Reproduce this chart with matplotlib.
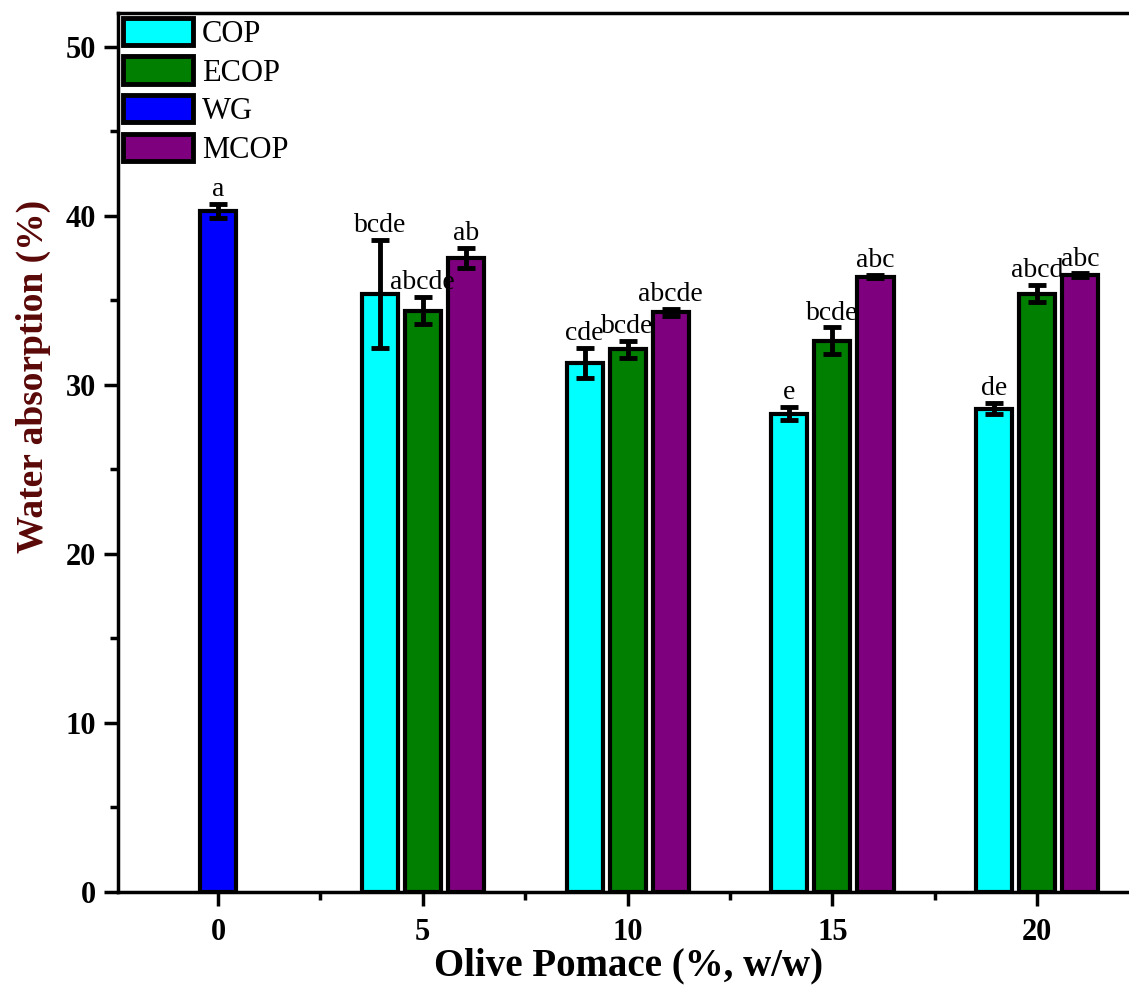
import numpy as np
import matplotlib.pyplot as plt
from matplotlib.patches import Patch
from matplotlib.ticker import MultipleLocator

plt.rcParams['font.family'] = 'Liberation Serif'

levels = [0, 5, 10, 15, 20]
series = ['COP', 'ECOP', 'WG', 'MCOP']
colors = {'COP': '#00ffff', 'ECOP': '#007f00', 'WG': '#0000ff', 'MCOP': '#7f007f'}

wg_val = [40.3]
wg_err = [0.4]
wg_lab = ['a']

op_levels = [5, 10, 15, 20]
cop_val = [35.4, 31.3, 28.3, 28.6]
cop_err = [3.2, 0.9, 0.4, 0.35]
cop_lab = ['bcde', 'cde', 'e', 'de']
ecop_val = [34.4, 32.1, 32.6, 35.4]
ecop_err = [0.8, 0.5, 0.8, 0.5]
ecop_lab = ['abcde', 'bcde', 'bcde', 'abcd']
mcop_val = [37.5, 34.3, 36.4, 36.5]
mcop_err = [0.6, 0.2, 0.1, 0.1]
mcop_lab = ['ab', 'abcde', 'abc', 'abc']

fig = plt.figure(figsize=(11.29, 9.85), dpi=100)
ax = fig.add_axes([0.1045, 0.0944, 0.905, 0.8924])

w = 0.88
off = 1.05
ekw = dict(ecolor='black', elinewidth=3.5, capsize=6.5, capthick=3.5)

def draw(x, vals, errs, labs, name):
    ax.bar(x, vals, w, color=colors[name], edgecolor='black', linewidth=3,
           yerr=errs, error_kw=ekw, zorder=2)
    for xi, v, e, l in zip(x, vals, errs, labs):
        ax.text(xi, v + e + 0.1, l, ha='center', va='bottom', fontsize=20)

x = np.array(op_levels, dtype=float)
draw([0], wg_val, wg_err, wg_lab, 'WG')
draw(x - off, cop_val, cop_err, cop_lab, 'COP')
draw(x, ecop_val, ecop_err, ecop_lab, 'ECOP')
draw(x + off, mcop_val, mcop_err, mcop_lab, 'MCOP')

ax.set_xlim(-2.44, 22.5)
ax.set_ylim(0, 52)
ax.set_xticks(levels)
ax.xaxis.set_minor_locator(MultipleLocator(2.5))
ax.yaxis.set_major_locator(MultipleLocator(10))
ax.yaxis.set_minor_locator(MultipleLocator(5))
ax.tick_params(which='major', direction='out', length=10, width=2.5, labelsize=22, pad=6)
ax.tick_params(axis='x', which='major', pad=9)
ax.tick_params(which='minor', direction='out', length=6, width=2.5)
for lab in ax.get_xticklabels() + ax.get_yticklabels():
    lab.set_fontweight('bold')
for s in ['left', 'bottom', 'top']:
    ax.spines[s].set_linewidth(2.5)
ax.spines['right'].set_visible(False)

ax.set_xlabel('Olive Pomace (%, w/w)', fontsize=28, fontweight='bold', labelpad=0)
ax.set_ylabel('Water absorption (%)', fontsize=27, fontweight='bold', color='#5a0808')
ax.yaxis.set_label_coords(-0.066, 0.587)

handles = [Patch(facecolor=colors[n], edgecolor='black', linewidth=3.5) for n in series]
ax.legend(handles, series, loc='upper left', frameon=False, fontsize=22,
          handlelength=2.3, handleheight=1.0, handletextpad=0.3,
          labelspacing=0.25, borderaxespad=0.1, borderpad=0.05)

fig.savefig('out.png', dpi=100)
